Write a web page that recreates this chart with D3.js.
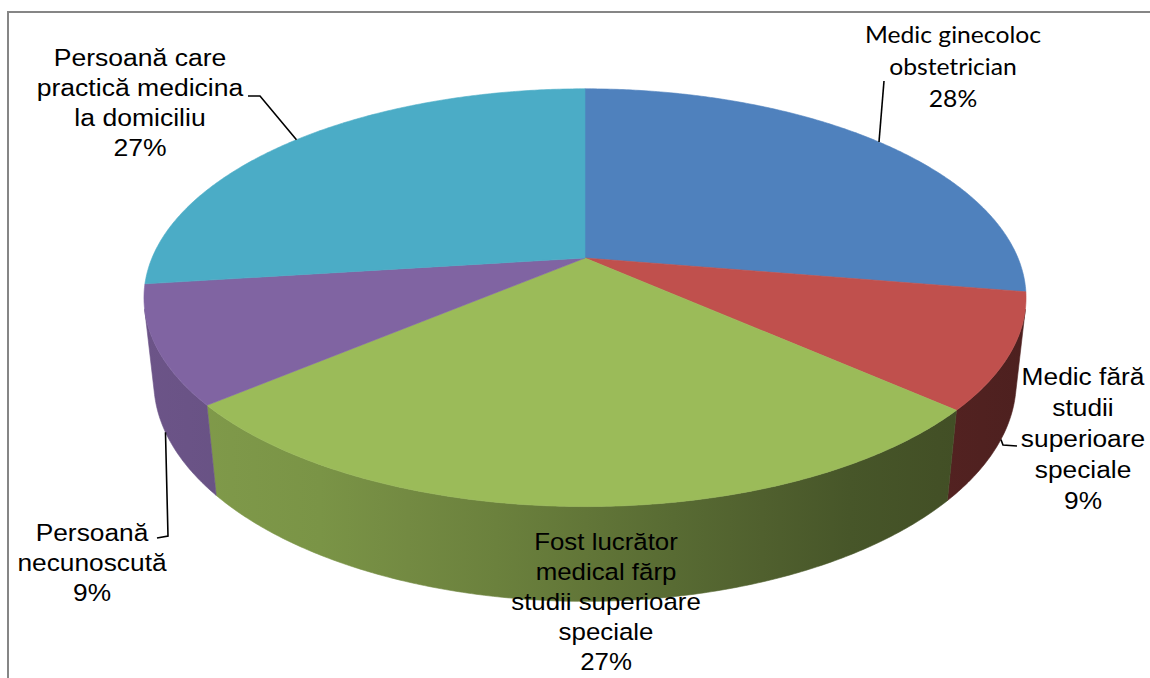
<!DOCTYPE html>
<html><head><meta charset="utf-8">
<script src="https://cdnjs.cloudflare.com/ajax/libs/d3/7.8.5/d3.min.js"></script>
<style>body{margin:0;background:#fff;overflow:hidden} svg{display:block}</style>
</head><body>
<svg id="chart" width="1150" height="678"></svg>
<script>
// ---- data ----
const categories = [
  "Medic ginecoloc obstetrician",
  "Medic fără studii superioare speciale",
  "Fost lucrător medical fărp studii superioare speciale",
  "Persoană necunoscută",
  "Persoană care practică medicina la domiciliu"
];
const values = [27.6, 8.9, 27.4, 9.1, 27.0];
const percentLabels = ["28%", "9%", "27%", "9%", "27%"];
const labelLines = [
  ["Medic ginecoloc", "obstetrician"],
  ["Medic fără", "studii", "superioare", "speciale"],
  ["Fost lucrător", "medical fărp", "studii superioare", "speciale"],
  ["Persoană", "necunoscută"],
  ["Persoană care", "practică medicina", "la domiciliu"]
];
const colors = ["#4F81BD", "#C0504D", "#9BBB59", "#8064A2", "#4BACC6"];

// ---- layout ----
const svg = d3.select("#chart");
svg.append("rect").attr("x", 8).attr("y", 12).attr("width", 1170).attr("height", 700)
  .attr("fill", "#fff").attr("stroke", "#868686").attr("stroke-width", 2);

const cx = 585, cy = 258, S = 433;
const sinP = 0.465, cosP = Math.sqrt(1 - sinP * sinP), D = 4.66, H = 0.22;
const sx = d3.scaleLinear().domain([-1, 1]).range([cx - S, cx + S]);
const sy = d3.scaleLinear().domain([-1, 1]).range([cy - S, cy + S]);
function proj(X, Y, Z) {
  const depth = Y * sinP + Z * cosP;
  const p = D / (D - depth);
  return [sx(X * p), sy((Z * sinP - Y * cosP) * p)];
}
function onRim(a, Y) { return proj(Math.sin(a), Y, -Math.cos(a)); }

const arcs = d3.pie().sort(null).value(d => d).startAngle(0).endAngle(2 * Math.PI)(values);
const line = d3.line();
const step = Math.PI / 360;
function arcPts(a0, a1, Y) {
  const pts = [];
  const n = Math.max(2, Math.ceil((a1 - a0) / step));
  for (let i = 0; i <= n; i++) pts.push(onRim(a0 + (a1 - a0) * i / n, Y));
  return pts;
}

// shading for side walls as function of normalized x
const shadeStops = [[-1, 0.84], [-0.6, 0.79], [-0.2, 0.69], [0.2, 0.57], [0.6, 0.46], [1, 0.40]];
const shadeScale = d3.scaleLinear().domain(shadeStops.map(d => d[0])).range(shadeStops.map(d => d[1]));
const defs = svg.append("defs");
arcs.forEach((a, i) => {
  const g = defs.append("linearGradient").attr("id", "wall" + i)
    .attr("gradientUnits", "userSpaceOnUse")
    .attr("x1", cx - S * 1.02).attr("x2", cx + S * 1.02).attr("y1", 0).attr("y2", 0);
  const base = d3.rgb(colors[i]);
  d3.range(0, 1.0001, 0.1).forEach(o => {
    const f = shadeScale(o * 2 - 1);
    g.append("stop").attr("offset", o)
      .attr("stop-color", d3.rgb(base.r * f, base.g * f, base.b * f).formatHex());
  });
});

// visible wall range
const Zs = 1 / (D * cosP);
const thMin = Math.acos(-Zs), thMax = 2 * Math.PI - thMin;
const walls = svg.append("g");
arcs.forEach((a, i) => {
  const a0 = Math.max(a.startAngle, thMin), a1 = Math.min(a.endAngle, thMax);
  if (a0 >= a1) return;
  const pts = arcPts(a0, a1, 0).concat(arcPts(a0, a1, -H).reverse());
  walls.append("path").attr("d", line(pts) + "Z")
    .attr("fill", `url(#wall${i})`).attr("stroke", `url(#wall${i})`).attr("stroke-width", 0.6);
});

// top faces
const tops = svg.append("g");
arcs.forEach((a, i) => {
  const pts = [proj(0, 0, 0)].concat(arcPts(a.startAngle, a.endAngle, 0));
  tops.append("path").attr("d", line(pts) + "Z")
    .attr("fill", colors[i]).attr("stroke", colors[i]).attr("stroke-width", 0.6);
});

// ---- labels ----
const mid = a => (a.startAngle + a.endAngle) / 2;
const arialFont = "'Liberation Sans', Arial, sans-serif";
const labelCfg = [
  { x: 953, y: 35, font: "Lato, 'Open Sans', sans-serif", stretch: 1.05, anchorY: 0, path: [[884, 81]] },
  { x: 1083, y: 377, font: arialFont, stretch: 1.12, anchorY: -H, path: [[1017, 446], [1003, 445]] },
  { x: 606, y: 542, font: arialFont, stretch: 1.1, anchorY: null, path: null },
  { x: 92, y: 533, font: arialFont, stretch: 1.12, anchorY: -H, path: [[157, 538], [168, 536]] },
  { x: 140, y: 58, font: arialFont, stretch: 1.13, anchorY: 0, path: [[248, 96], [260, 96]] }
];
const lineGap = [32, 31, 30, 30, 30];
const fontSize = 23.5;
const lab = svg.append("g");
arcs.forEach((a, i) => {
  const c = labelCfg[i];
  if (c.path) {
    const end = onRim(mid(a), c.anchorY);
    lab.append("path").attr("d", line(c.path.concat([end])))
      .attr("fill", "none").attr("stroke", "#000").attr("stroke-width", 1.6);
  }
  const lines = labelLines[i].concat([percentLabels[i]]);
  const g = lab.append("g").attr("transform", `translate(${c.x},${c.y}) scale(${c.stretch},1)`);
  lines.forEach((t, k) => {
    g.append("text").attr("x", 0).attr("y", k * lineGap[i]).attr("dy", "0.35em")
      .attr("text-anchor", "middle").attr("font-family", c.font)
      .attr("font-size", fontSize).attr("fill", "#000").text(t);
  });
});
</script>
</body></html>
